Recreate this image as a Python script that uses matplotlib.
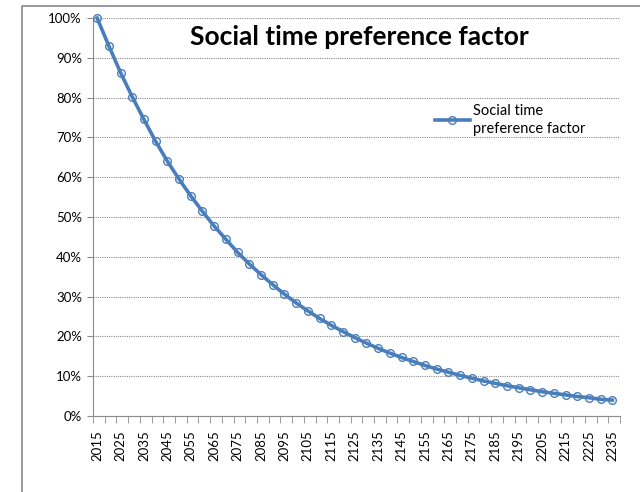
import matplotlib
matplotlib.use("Agg")
import matplotlib.pyplot as plt
from matplotlib.ticker import FixedLocator, PercentFormatter

years = list(range(2015, 2240, 5))
values = [100, 93.0, 86.3, 80.2, 74.5, 69.0, 64.0, 59.5, 55.3, 51.4,
          47.7, 44.4, 41.1, 38.2, 35.5, 33.0, 30.6, 28.4, 26.4, 24.5,
          22.8, 21.2, 19.7, 18.3, 17.0, 15.8, 14.7, 13.7, 12.7, 11.8,
          11.0, 10.2, 9.5, 8.8, 8.2, 7.6, 7.1, 6.6, 6.1, 5.7,
          5.3, 4.9, 4.6, 4.2, 4.0]
series_label = "Social time\npreference factor"
title = "Social time preference factor"

plt.rcParams['font.family'] = ['Lato', 'DejaVu Sans']

fig = plt.figure(figsize=(6.4, 4.92), dpi=100)
W, H = 640, 492

# background axes for the outer chart border (left and top edges visible)
bg = fig.add_axes([0, 0, 1, 1], zorder=-1)
bg.set_xlim(0, W)
bg.set_ylim(H, 0)
bg.axis('off')
bg.plot([21.5, 21.5, W + 5], [H + 5, 5.5, 5.5], color='#888888', linewidth=1.2)

ax = fig.add_axes([93 / W, 1 - 416 / H, (620 - 93) / W, (416 - 18) / H])
ax.patch.set_alpha(0)

x = list(range(len(years)))
color = '#4a7ebb'
ax.plot(x, values, color=color, linewidth=2.6, marker='o', markersize=5.5,
        markerfacecolor='none', markeredgecolor=color, markeredgewidth=1.0,
        label=series_label, zorder=3, clip_on=False)

ax.set_xlim(-0.35, len(years) - 0.55)
ax.set_ylim(0, 100)
ax.yaxis.set_major_locator(FixedLocator(range(0, 101, 10)))
ax.yaxis.set_major_formatter(PercentFormatter(decimals=0))
ax.grid(axis='y', linestyle=(0, (1, 1)), color='#8c8c8c', linewidth=0.8)
ax.set_axisbelow(True)

ax.set_xticks(x[::2])
ax.set_xticklabels([str(y) for y in years[::2]], rotation=90, fontsize=9.5)
ax.set_xticks([i - 0.35 for i in range(len(years) + 1)], minor=True)
ax.tick_params(axis='x', which='major', length=0, pad=10)
ax.tick_params(axis='x', which='minor', length=5, color='#8c8c8c')
ax.tick_params(axis='y', length=4, color='#8c8c8c', labelsize=9.5, pad=4)

for s in ['top', 'right']:
    ax.spines[s].set_visible(False)
for s in ['left', 'bottom']:
    ax.spines[s].set_color('#8c8c8c')

fig.text(359 / W, 1 - 37 / H, title, fontsize=19, fontweight='bold',
         ha='center', va='center')

leg = fig.legend(loc='upper left', bbox_to_anchor=(429 / W, 1 - 98 / H), frameon=False,
                 fontsize=10.5, handlelength=2.4, handletextpad=0.2, borderaxespad=0)
for t in leg.get_texts():
    t.set_linespacing(1.35)

fig.savefig("out.png", dpi=100)
